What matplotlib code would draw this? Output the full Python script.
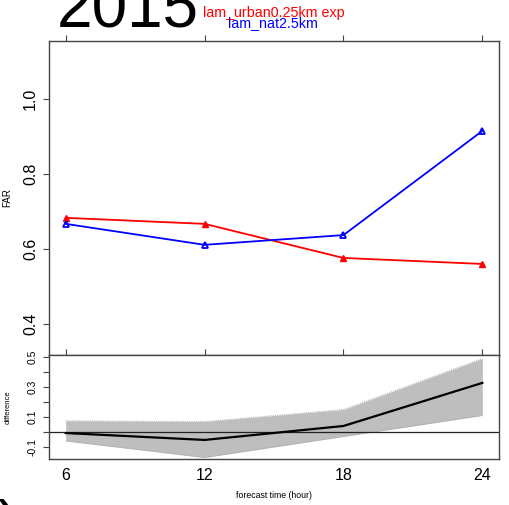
import numpy as np
import matplotlib.pyplot as plt
from matplotlib.ticker import FixedLocator, FuncFormatter

plt.rcParams['font.family'] = ['Liberation Sans', 'DejaVu Sans']

# forecast lead times and scores
hours = [6, 12, 18, 24]
far_urban = [0.683, 0.667, 0.576, 0.560]
far_nat = [0.667, 0.611, 0.637, 0.915]

# difference with its confidence band
diff_mean = [-0.007, -0.053, 0.040, 0.327]
diff_low = [-0.060, -0.170, -0.030, 0.110]
diff_high = [0.075, 0.070, 0.150, 0.490]

W, H = 510, 505
fig = plt.figure(figsize=(W / 100, H / 100), dpi=100)

spine_col = '#444444'


def frac(left, top, right, bottom):
    return [left / W, 1 - bottom / H, (right - left) / W, (bottom - top) / H]


# upper panel: FAR
ax1 = fig.add_axes(frac(49, 41, 499, 355))
ax1.plot(hours, far_urban, color='red', lw=1.3, marker='^', ms=5,
         markerfacecolor='red', markeredgecolor='red')
ax1.plot(hours, far_nat, color='blue', lw=1.3, marker='^', ms=5,
         markerfacecolor='none', markeredgecolor='blue', markeredgewidth=1.3)
ax1.set_xlim(5.28, 24.72)
ax1.set_ylim(0.317, 1.155)
ax1.set_yticks([0.4, 0.6, 0.8, 1.0])
ax1.set_xticks(hours)
ax1.tick_params(axis='x', top=True, bottom=False, labeltop=False,
                labelbottom=False, direction='out', length=4, color=spine_col)
ax1.tick_params(axis='y', direction='out', length=4, pad=4, labelsize=11.5,
                color=spine_col)
for lab in ax1.get_yticklabels():
    lab.set_rotation(90)
    lab.set_va('center')
ax1.set_ylabel('FAR', fontsize=7)
ax1.yaxis.set_label_coords(-37 / 450, 0.5)
for s in ax1.spines.values():
    s.set_color(spine_col)
    s.set_linewidth(1.0)

# lower panel: difference
ax2 = fig.add_axes(frac(49, 355, 499, 459))
ax2.fill_between(hours, diff_low, diff_high, color='#bebebe', lw=0)
ax2.plot(hours, diff_low, color='#9a9a9a', lw=0.6, ls=':')
ax2.plot(hours, diff_high, color='#9a9a9a', lw=0.6, ls=':')
ax2.axhline(0, color='#222222', lw=0.9)
ax2.plot(hours, diff_mean, color='black', lw=1.6)
ax2.set_xlim(5.28, 24.72)
ax2.set_ylim(-0.18, 0.513)
ax2.set_xticks(hours)
ax2.set_xticklabels(['6', '12', '18', '24'], fontsize=11.5)
ax2.tick_params(axis='x', top=True, bottom=False, labelbottom=True,
                direction='out', length=4, pad=2.5, color=spine_col)
ax2.yaxis.set_major_locator(FixedLocator([-0.2, -0.1, 0.0, 0.1, 0.2, 0.3, 0.4, 0.5]))
shown = {-0.1: '-0.1', 0.1: '0.1', 0.3: '0.3', 0.5: '0.5'}
ax2.yaxis.set_major_formatter(FuncFormatter(
    lambda v, p: shown.get(round(v, 1), '')))
ax2.tick_params(axis='y', direction='out', length=4, pad=4, labelsize=7.5,
                color=spine_col)
for lab in ax2.get_yticklabels():
    lab.set_rotation(90)
    lab.set_va('center')
ax2.set_ylabel('difference', fontsize=5.5)
ax2.yaxis.set_label_coords(-37 / 450, 0.5)
ax2.set_xlabel('forecast time (hour)', fontsize=6.3)
ax2.xaxis.set_label_coords(0.5, -36 / 104)
ax2.xaxis.label.set_va('center')
for s in ax2.spines.values():
    s.set_color(spine_col)
    s.set_linewidth(1.0)

# title and run names
fig.text(57 / W, 1 - 27 / H, '2015', fontsize=46, ha='left', va='baseline')
fig.text(203 / W, 1 - 17 / H, 'lam_urban0.25km exp', color='red',
         fontsize=10.3, ha='left', va='baseline')
fig.text(228 / W, 1 - 27 / H, 'lam_nat2.5km', color='blue',
         fontsize=10.3, ha='left', va='baseline')
fig.text(-2 / W, 1 - 543 / H, ')', fontsize=44, ha='left', va='baseline')

fig.savefig('out.png', dpi=100)
